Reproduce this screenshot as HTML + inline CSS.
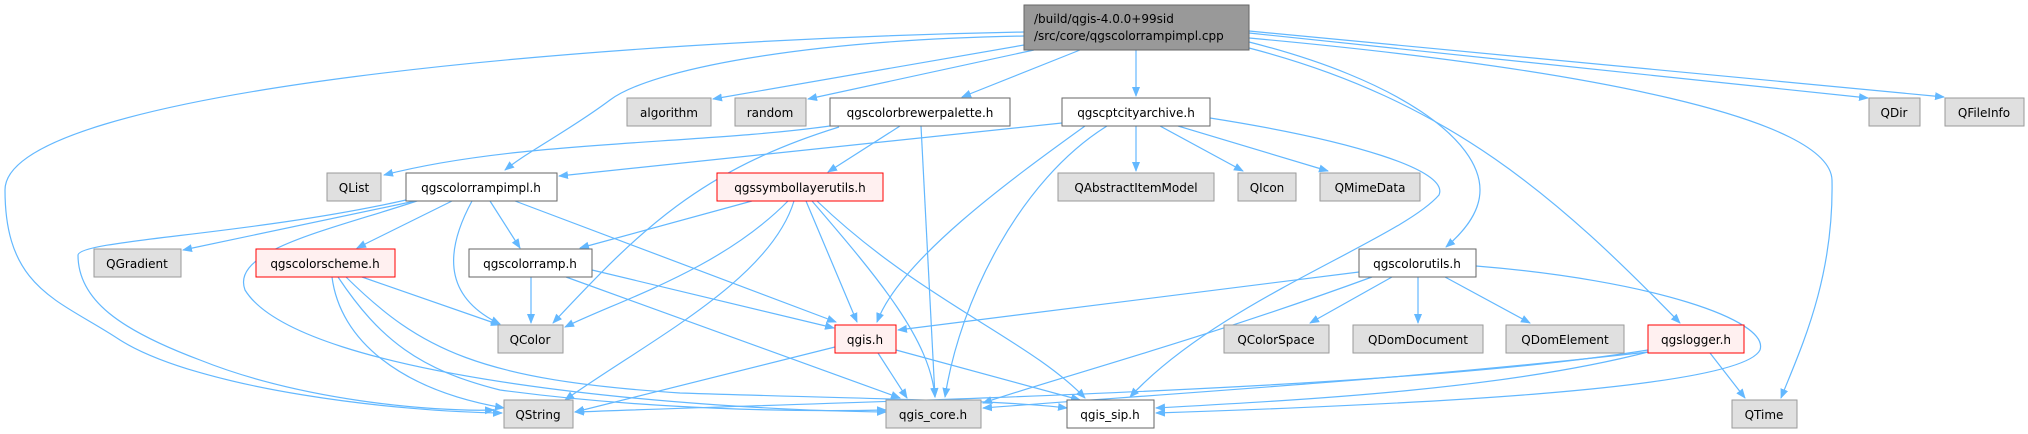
<!DOCTYPE html>
<html><head><meta charset="utf-8"><style>
html,body{margin:0;padding:0;background:#fff;}
svg{display:block;}
text{font-family:"DejaVu Sans","Liberation Sans",sans-serif;font-size:12px;fill:#000;}
.e{fill:none;stroke:#63b8ff;stroke-width:1.2;marker-end:url(#a);}
.g{fill:#e0e0e0;stroke:#999;stroke-width:1;}
.w{fill:#fff;stroke:#666;stroke-width:1;}
.r{fill:#fff0f0;stroke:#f00;stroke-width:1;}
</style></head><body>
<svg width="2028" height="434" viewBox="0 0 2028 434" xmlns="http://www.w3.org/2000/svg">
<defs><marker id="a" markerWidth="10" markerHeight="10" refX="9" refY="5" orient="auto" markerUnits="userSpaceOnUse"><path d="M0,1 L10,5 L0,9 z" fill="#63b8ff"/></marker></defs>
<!-- edges -->
<path class="e" d="M1024,32 C600,40 5,90 5,190 C5,290 60,300 120,340 C200,390 400,412 502,413"/>
<path class="e" d="M1024,36 C800,40 650,70 610,100 C570,130 530,150 505,170"/>
<path class="e" d="M1024,45 L713,99"/>
<path class="e" d="M1034,50 L808,99"/>
<path class="e" d="M1080,50 L962,97"/>
<path class="e" d="M1136,50 L1136,96"/>
<path class="e" d="M1249,42 C1400,80 1480,140 1480,190 C1480,215 1460,235 1446,247"/>
<path class="e" d="M1249,48 C1450,100 1560,200 1680,323"/>
<path class="e" d="M1249,38 C1600,70 1830,120 1832,180 C1834,280 1800,350 1781,398"/>
<path class="e" d="M1249,33 L1868,98"/>
<path class="e" d="M1249,31 L1944,97"/>
<path class="e" d="M837,125 C700,145 520,140 384,175"/>
<path class="e" d="M839,127 C700,170 640,230 553,323"/>
<path class="e" d="M900,126 L828,172"/>
<path class="e" d="M921,126 L935,397"/>
<path class="e" d="M1062,123 L559,176"/>
<path class="e" d="M1085,126 C1010,180 900,260 877,322"/>
<path class="e" d="M1107,126 C1020,180 960,300 945,397"/>
<path class="e" d="M1136,126 L1136,171"/>
<path class="e" d="M1160,126 L1243,171"/>
<path class="e" d="M1178,126 L1328,171"/>
<path class="e" d="M1210,118 C1350,140 1450,170 1439,195 C1400,240 1220,300 1130,397"/>
<path class="e" d="M406,200 C250,235 80,240 78,255 C78,300 120,330 200,360 C300,400 430,412 494,410"/>
<path class="e" d="M420,200 L183,250"/>
<path class="e" d="M420,200 C330,230 230,250 245,290 C300,380 700,410 886,412"/>
<path class="e" d="M452,201 L357,248"/>
<path class="e" d="M472,201 C440,260 450,300 500,324"/>
<path class="e" d="M490,201 L520,248"/>
<path class="e" d="M515,201 L836,322"/>
<path class="e" d="M752,201 L580,248"/>
<path class="e" d="M788,201 C720,270 620,300 565,327"/>
<path class="e" d="M794,201 C770,280 650,340 565,400"/>
<path class="e" d="M806,201 L857,322"/>
<path class="e" d="M812,201 C880,280 930,340 935,397"/>
<path class="e" d="M817,201 C920,300 1030,340 1085,398"/>
<path class="e" d="M362,277 L500,325"/>
<path class="e" d="M332,277 C340,340 400,390 504,408"/>
<path class="e" d="M338,277 C380,340 420,370 500,390 C650,410 800,412 886,410"/>
<path class="e" d="M346,277 C420,350 480,380 680,393 C900,400 1000,400 1067,408"/>
<path class="e" d="M531,277 L531,323"/>
<path class="e" d="M592,270 L834,328"/>
<path class="e" d="M566,277 L900,398"/>
<path class="e" d="M835,347 L575,412"/>
<path class="e" d="M878,353 L907,398"/>
<path class="e" d="M896,350 L1080,400"/>
<path class="e" d="M1359,272 L898,330"/>
<path class="e" d="M1372,277 C1200,340 1050,380 983,403"/>
<path class="e" d="M1392,277 L1310,323"/>
<path class="e" d="M1418,277 L1418,323"/>
<path class="e" d="M1445,277 L1530,323"/>
<path class="e" d="M1476,266 C1650,280 1770,320 1760,350 C1740,390 1400,405 1156,413"/>
<path class="e" d="M1648,350 C1400,390 900,400 575,412"/>
<path class="e" d="M1648,352 C1400,380 1150,395 983,408"/>
<path class="e" d="M1648,352 C1500,390 1300,400 1156,408"/>
<path class="e" d="M1710,353 L1745,398"/>
<!-- nodes -->
<rect x="1024" y="5" width="225" height="45" fill="#999" stroke="#666"/>
<text x="1034" y="23">/build/qgis-4.0.0+99sid</text>
<text x="1034" y="40">/src/core/qgscolorrampimpl.cpp</text>
<rect class="g" x="627" y="98" width="84" height="28"/><text x="669" y="117" text-anchor="middle">algorithm</text>
<rect class="g" x="735" y="98" width="71" height="28"/><text x="770" y="117" text-anchor="middle">random</text>
<rect class="w" x="830" y="98" width="180" height="28"/><text x="920" y="117" text-anchor="middle">qgscolorbrewerpalette.h</text>
<rect class="w" x="1062" y="98" width="148" height="28"/><text x="1136" y="117" text-anchor="middle">qgscptcityarchive.h</text>
<rect class="g" x="1869" y="98" width="51" height="28"/><text x="1894" y="117" text-anchor="middle">QDir</text>
<rect class="g" x="1945" y="98" width="79" height="28"/><text x="1984" y="117" text-anchor="middle">QFileInfo</text>
<rect class="g" x="327" y="173" width="54" height="28"/><text x="354" y="192" text-anchor="middle">QList</text>
<rect class="w" x="406" y="173" width="151" height="28"/><text x="481" y="192" text-anchor="middle">qgscolorrampimpl.h</text>
<rect class="r" x="717" y="173" width="166" height="28"/><text x="800" y="192" text-anchor="middle">qgssymbollayerutils.h</text>
<rect class="g" x="1058" y="173" width="156" height="28"/><text x="1136" y="192" text-anchor="middle">QAbstractItemModel</text>
<rect class="g" x="1238" y="173" width="58" height="28"/><text x="1267" y="192" text-anchor="middle">QIcon</text>
<rect class="g" x="1320" y="173" width="100" height="28"/><text x="1370" y="192" text-anchor="middle">QMimeData</text>
<rect class="g" x="94" y="249" width="87" height="28"/><text x="137" y="268" text-anchor="middle">QGradient</text>
<rect class="r" x="256" y="249" width="139" height="28"/><text x="325" y="268" text-anchor="middle">qgscolorscheme.h</text>
<rect class="w" x="469" y="249" width="123" height="28"/><text x="530" y="268" text-anchor="middle">qgscolorramp.h</text>
<rect class="w" x="1359" y="249" width="117" height="28"/><text x="1417" y="268" text-anchor="middle">qgscolorutils.h</text>
<rect class="g" x="498" y="325" width="65" height="28"/><text x="530" y="344" text-anchor="middle">QColor</text>
<rect class="r" x="835" y="325" width="61" height="28"/><text x="865" y="344" text-anchor="middle">qgis.h</text>
<rect class="g" x="1224" y="325" width="105" height="28"/><text x="1276" y="344" text-anchor="middle">QColorSpace</text>
<rect class="g" x="1353" y="325" width="130" height="28"/><text x="1418" y="344" text-anchor="middle">QDomDocument</text>
<rect class="g" x="1506" y="325" width="118" height="28"/><text x="1565" y="344" text-anchor="middle">QDomElement</text>
<rect class="r" x="1648" y="325" width="96" height="28"/><text x="1696" y="344" text-anchor="middle">qgslogger.h</text>
<rect class="g" x="504" y="400" width="69" height="28"/><text x="538" y="419" text-anchor="middle">QString</text>
<rect class="g" x="886" y="400" width="95" height="28"/><text x="933" y="419" text-anchor="middle">qgis_core.h</text>
<rect class="w" x="1067" y="400" width="87" height="28"/><text x="1110" y="419" text-anchor="middle">qgis_sip.h</text>
<rect class="g" x="1732" y="400" width="65" height="28"/><text x="1764" y="419" text-anchor="middle">QTime</text>
</svg>
</body></html>
